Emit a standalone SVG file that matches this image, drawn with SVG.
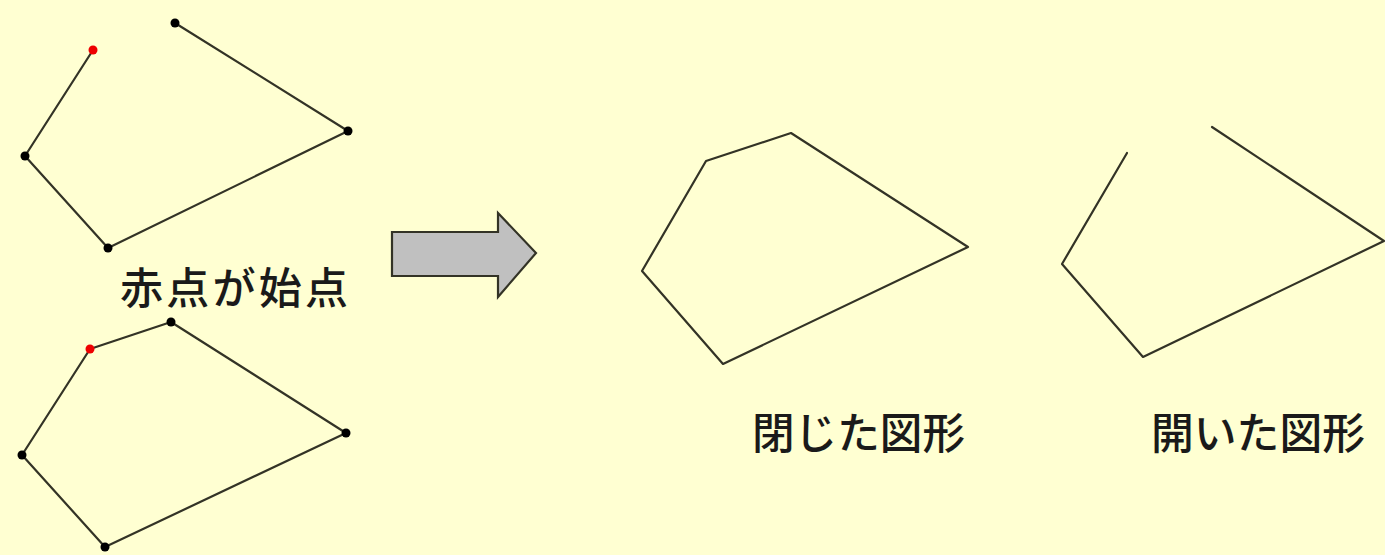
<svg xmlns="http://www.w3.org/2000/svg" width="1385" height="555" viewBox="0 0 1385 555">
<style>
.ln{fill:none;stroke:#333326;stroke-width:2.2;stroke-linejoin:round;stroke-linecap:round}
.dot{fill:#000}
.red{fill:#ee0000}
.lbl{font-family:"Noto Sans CJK JP","Noto Sans",sans-serif;fill:#1a1a1a;font-weight:500}
</style>
<rect width="1385" height="555" fill="#FFFFD2"/>
<g id="open-start">
<polyline class="ln" points="93,50 25,156 108,248 348,131 175,23"/>
<circle class="dot" cx="175" cy="23" r="4.5"/>
<circle class="dot" cx="348" cy="131" r="4.5"/>
<circle class="dot" cx="25" cy="156" r="4.5"/>
<circle class="dot" cx="108" cy="248" r="4.5"/>
<circle class="red" cx="93" cy="50" r="4.5"/>
</g>
<g id="caption-start">
<text class="lbl" x="120" y="304" font-size="43" textLength="228" lengthAdjust="spacing">赤点が始点</text>
</g>
<g id="closed-start">
<polygon class="ln" points="90,349 171,322 346,433 105,547 22,455"/>
<circle class="dot" cx="171" cy="322" r="4.5"/>
<circle class="dot" cx="346" cy="433" r="4.5"/>
<circle class="dot" cx="22" cy="455" r="4.5"/>
<circle class="dot" cx="105" cy="547" r="4.5"/>
<circle class="red" cx="90" cy="349" r="4.5"/>
</g>
<g id="arrow">
<polygon points="392,232 498,232 498,213 536,253 498,297 498,276 392,276" fill="#c0c0c0" stroke="#333326" stroke-width="2.2" stroke-linejoin="miter"/>
</g>
<g id="closed-figure">
<polygon class="ln" points="706,161 791,133 968,247 723,364 642,271"/>
<text class="lbl" x="752" y="449" font-size="43" textLength="213" lengthAdjust="spacingAndGlyphs">閉じた図形</text>
</g>
<g id="open-figure">
<polyline class="ln" points="1127,153 1062,264 1143,357 1384,241 1212,127"/>
<text class="lbl" x="1151" y="449" font-size="43" textLength="214" lengthAdjust="spacingAndGlyphs">開いた図形</text>
</g>
</svg>
